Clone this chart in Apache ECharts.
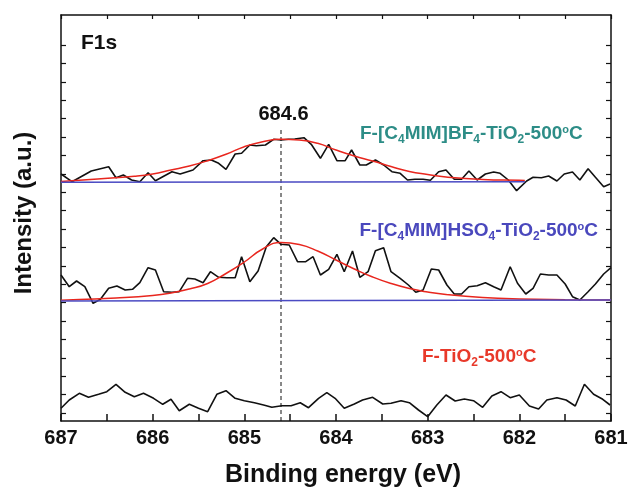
<!DOCTYPE html>
<html><head><meta charset="utf-8">
<script src="https://cdn.jsdelivr.net/npm/echarts@6/dist/echarts.min.js"></script>
<style>html,body{margin:0;padding:0;background:#fff}#c{width:628px;height:490px}</style>
</head><body><div id="c"></div>
<script>
// ---- axis ticks ----
const xTickLabels = [687, 686, 685, 684, 683, 682, 681];
const yTickValues = [8, 26.4, 44.8, 63.2, 81.6, 100, 118.4, 136.8, 155.2, 173.6, 192, 210.4, 228.8, 247.2, 265.6, 284, 302.4, 320.8, 339.2, 357.6, 376];

// ---- F-[C4MIM]BF4-TiO2-500°C (top) ----
const bf4Energy = [687.00,686.88,686.67,686.48,686.40,686.32,686.23,686.14,686.05,685.97,685.79,685.70,685.56,685.45,685.36,685.28,685.20,685.10,685.03,684.94,684.87,684.77,684.68,684.60,684.52,684.45,684.35,684.27,684.17,684.08,683.99,683.90,683.83,683.74,683.67,683.57,683.48,683.39,683.30,683.22,683.14,683.05,682.97,682.88,682.80,682.71,682.63,682.55,682.46,682.37,682.28,682.21,682.12,682.03,681.92,681.85,681.76,681.68,681.59,681.51,681.42,681.34,681.25,681.17,681.08,681.01];
const bf4Counts = [247,239.3,250,254.3,243.3,246,241,239.3,248.3,240.3,249.3,247,251,260.3,261,257.7,251.7,267,267.7,276,275.3,276,281.7,281,281.7,282,283.3,276.7,262.7,276.7,260.3,260.3,271,256,256,261,256,249.3,247.7,241,241.7,241.7,240.7,249.3,251,241.7,241.7,250,241,247,249,247.7,241,230.3,240,243.7,243.3,245,240,247,249,241,252.3,243.7,234.3,237];
const bf4FitEnergy = [687.0,686.6,686.2,686.0,685.8,685.6,685.4,685.2,685.0,684.8,684.6,684.4,684.2,684.0,683.8,683.6,683.4,683.2,683.0,682.8,682.4,682.0,681.94];
const bf4FitCounts = [239.5,242,244.7,247,251,255,260.3,266.7,274.3,279.3,281.7,281,277.7,271,265,260,254.5,249.5,246.5,244,241.5,240.7,240.5];
const bf4BaseEnergy = [687.0, 681.94];
const bf4BaseCounts = [238.8, 239.2];

// ---- F-[C4MIM]HSO4-TiO2-500°C (middle) ----
const hso4Energy = [687.00,686.91,686.83,686.74,686.65,686.57,686.48,686.39,686.30,686.22,686.14,686.05,685.97,685.88,685.79,685.71,685.62,685.54,685.45,685.37,685.28,685.19,685.10,685.03,684.94,684.85,684.76,684.68,684.60,684.51,684.42,684.33,684.25,684.17,684.08,683.99,683.91,683.82,683.74,683.65,683.57,683.48,683.40,683.30,683.21,683.13,683.05,682.96,682.88,682.79,682.71,682.63,682.55,682.46,682.37,682.28,682.20,682.10,682.02,681.93,681.85,681.77,681.68,681.59,681.50,681.42,681.34,681.25,681.17,681.08,681.00];
const hso4Counts = [146,134.3,140,134.3,117.7,121.7,132.7,135,131,131.7,138.3,153.3,151,129.3,128.7,129.3,142.7,142,138.3,149.3,143.7,143.3,143.3,164.3,139.3,150,174.3,183.3,176.7,176,159.3,159.3,164.3,146,151.7,166.7,149.3,170,143.7,149.3,170.3,173.3,149.3,142.7,136,128.7,131,152,151,136,127,127,134.3,135.3,138.3,134.3,131,154.3,137.7,127,132.7,147,146,146,137,124.3,121,129.3,137,147,153.3];
const hso4FitEnergy = [687.0,686.8,686.4,686.0,685.8,685.6,685.4,685.2,685.0,684.8,684.6,684.4,684.2,684.0,683.8,683.6,683.4,683.2,683.0,682.8,682.4,682.0,681.5,681.0];
const hso4FitCounts = [120.7,121.5,123,125.5,128,132,137.5,147.5,159,172,178.5,176.5,170,161,152,144,137.5,132.5,129,126.5,123.5,122,121.3,121];
const hso4BaseEnergy = [687.0, 681.0];
const hso4BaseCounts = [120, 121];

// ---- F-TiO2-500°C (bottom) ----
const tio2Energy = [687.00,686.91,686.80,686.70,686.59,686.50,686.40,686.30,686.20,686.10,685.99,685.89,685.80,685.71,685.60,685.50,685.40,685.30,685.20,685.10,685.00,684.89,684.79,684.70,684.59,684.49,684.39,684.30,684.19,684.10,684.01,683.91,683.80,683.71,683.60,683.49,683.40,683.29,683.20,683.10,683.00,682.90,682.80,682.70,682.60,682.50,682.40,682.30,682.20,682.10,682.00,681.89,681.79,681.70,681.59,681.49,681.39,681.29,681.19,681.09,681.01];
const tio2Counts = [12.7,21,27.7,23.7,26.7,29.3,36.7,28.7,24.3,27.7,22.7,16.7,21.7,10.3,16.7,12.7,9.3,26.7,30.3,22.7,20.3,18.3,16,13.7,15.3,15.3,18.3,13.3,22.7,28.3,22.7,12.7,17,21,23.7,17,17.7,20.3,18.3,11,4.3,16,26,20,22,20.3,13.7,25,29.3,23.3,26,15,12,21,23.3,21,15,36.7,26.7,21.7,16];

// ---- peak marker ----
const peakEnergy = 684.6;
const peakLineCounts = [0, 292];

const FONT = "'Liberation Sans', Arial, sans-serif";
const BLACK = '#111111', RED = '#e8261e', BLUE = '#4b4bc3';
const zip = (xs, ys) => xs.map((x, i) => [x, ys[i]]);

function lineSeries(name, xs, ys, color, width, smooth, z) {
  return { name, type: 'line', data: zip(xs, ys), symbol: 'none', smooth: smooth,
    lineStyle: { color, width }, z, silent: true, animation: false, clip: true };
}

const chart = echarts.init(document.getElementById('c'), null, { renderer: 'canvas' });

const richStyles = (color) => ({
  m: { fontFamily: FONT, fontWeight: 'bold', fontSize: 19, lineHeight: 21.5, verticalAlign: 'top', fill: color, color },
  s: { fontFamily: FONT, fontWeight: 'bold', fontSize: 12, lineHeight: 21.5, verticalAlign: 'bottom', fill: color, color },
  p: { fontFamily: FONT, fontWeight: 'bold', fontSize: 11, lineHeight: 21.5, verticalAlign: 'top', fill: color, color }
});

chart.setOption({
  animation: false,
  backgroundColor: '#fff',
  grid: { left: 61, right: 17, top: 15, bottom: 69, containLabel: false, outerBoundsMode: 'none' },
  xAxis: [{
    type: 'value', inverse: true, min: 681, max: 687, interval: 0.5, position: 'bottom',
    axisLine: { show: true, onZero: false, lineStyle: { color: BLACK, width: 1.5 } },
    axisTick: { show: true, inside: true, length: 7, lineStyle: { color: BLACK, width: 1.5 } },
    splitLine: { show: false },
    axisLabel: { show: true, margin: 7, color: BLACK, fontFamily: FONT, fontWeight: 'bold', fontSize: 20,
      formatter: v => xTickLabels.includes(v) ? String(v) : '' , showMinLabel: true, showMaxLabel: true},
    name: 'Binding energy (eV)', nameLocation: 'middle', nameGap: 42,
    nameTextStyle: { color: BLACK, fontFamily: FONT, fontWeight: 'bold', fontSize: 25, padding: [0, 0, 0, 14], verticalAlign: 'top' }
  }, {
    type: 'value', inverse: true, min: 681, max: 687, interval: 0.5, position: 'top',
    axisLine: { show: true, onZero: false, lineStyle: { color: BLACK, width: 1.5 } },
    axisTick: { show: true, inside: true, length: 4, lineStyle: { color: BLACK, width: 1.2 } },
    splitLine: { show: false }, axisLabel: { show: false }
  }],
  yAxis: [{
    type: 'value', min: 0, max: 406, position: 'left',
    axisLine: { show: true, onZero: false, lineStyle: { color: BLACK, width: 1.5 } },
    axisTick: { show: true, inside: true, length: 5, customValues: yTickValues, lineStyle: { color: BLACK, width: 1.2 } },
    splitLine: { show: false }, axisLabel: { show: false },
    name: 'Intensity (a.u.)', nameLocation: 'middle', nameGap: 25, nameRotate: 90,
    nameTextStyle: { color: BLACK, fontFamily: FONT, fontWeight: 'bold', fontSize: 24, padding: [0, 0, 0, 10] }
  }, {
    type: 'value', min: 0, max: 406, position: 'right',
    axisLine: { show: true, onZero: false, lineStyle: { color: BLACK, width: 1.5 } },
    axisTick: { show: true, inside: true, length: 5, customValues: yTickValues, lineStyle: { color: BLACK, width: 1.2 } },
    splitLine: { show: false }, axisLabel: { show: false }
  }],
  series: [
    lineSeries('F-TiO2-500°C', tio2Energy, tio2Counts, BLACK, 1.6, false, 2),
    lineSeries('HSO4 data', hso4Energy, hso4Counts, BLACK, 1.6, false, 2),
    lineSeries('BF4 data', bf4Energy, bf4Counts, BLACK, 1.6, false, 2),
    lineSeries('HSO4 fit', hso4FitEnergy, hso4FitCounts, RED, 1.5, true, 3),
    lineSeries('BF4 fit', bf4FitEnergy, bf4FitCounts, RED, 1.5, true, 3),
    lineSeries('HSO4 base', hso4BaseEnergy, hso4BaseCounts, BLUE, 1.5, false, 4),
    lineSeries('BF4 base', bf4BaseEnergy, bf4BaseCounts, BLUE, 1.5, false, 4),
    { name: 'peak', type: 'line', data: [[peakEnergy, peakLineCounts[0]], [peakEnergy, peakLineCounts[1]]],
      symbol: 'none', lineStyle: { color: BLACK, width: 1, type: [4, 3] }, z: 1, silent: true, animation: false }
  ],
  graphic: [
    { type: 'text', x: 81, y: 43, style: { text: 'F1s', font: 'bold 21px ' + FONT, fill: BLACK, textAlign: 'left', textVerticalAlign: 'middle' } },
    { type: 'text', x: 283.5, y: 114.5, style: { text: '684.6', font: 'bold 20px ' + FONT, fill: BLACK, textAlign: 'center', textVerticalAlign: 'middle' } },
    { type: 'text', x: 360, y: 124, style: { text: '{m|F-[C}{s|4}{m|MIM]BF}{s|4}{m|-TiO}{s|2}{m|-500}{p|o}{m|C}', rich: richStyles('#2d8d87'), fill: '#2d8d87', textAlign: 'left', textVerticalAlign: 'top' } },
    { type: 'text', x: 359.5, y: 221, style: { text: '{m|F-[C}{s|4}{m|MIM]HSO}{s|4}{m|-TiO}{s|2}{m|-500}{p|o}{m|C}', rich: richStyles('#4a48bd'), fill: '#4a48bd', textAlign: 'left', textVerticalAlign: 'top' } },
    { type: 'text', x: 422, y: 347.5, style: { text: '{m|F-TiO}{s|2}{m|-500}{p|o}{m|C}', rich: richStyles('#e8392a'), fill: '#e8392a', textAlign: 'left', textVerticalAlign: 'top' } }
  ]
});
</script>
</body></html>
